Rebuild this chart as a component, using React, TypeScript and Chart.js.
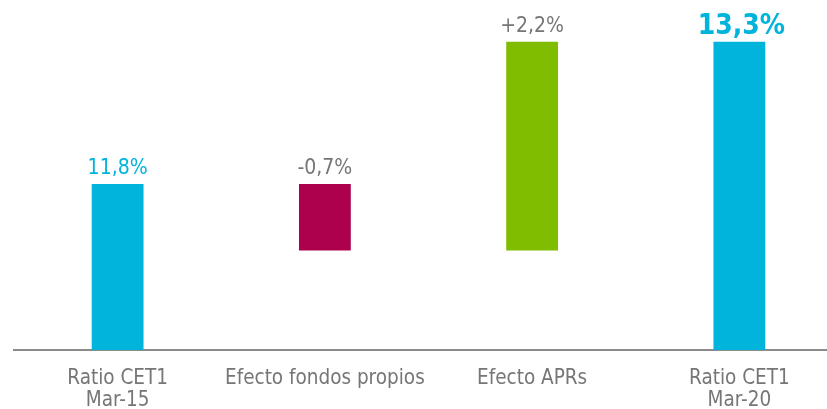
import React, { useEffect, useRef } from "react";
import { Chart, registerables } from "chart.js";

Chart.register(...registerables);

const categories: (string | string[])[] = [
  ["Ratio CET1", "Mar-15"],
  "Efecto fondos propios",
  "Efecto APRs",
  ["Ratio CET1", "Mar-20"],
];
const startValue = 11.8;
const fondosPropiosEffect = -0.7;
const aprsEffect = 2.2;
const endValue = 13.3;
const barValues: (number | [number, number])[] = [
  startValue,
  [startValue + fondosPropiosEffect, startValue],
  [startValue + fondosPropiosEffect, startValue + fondosPropiosEffect + aprsEffect],
  endValue,
];
const valueLabels = ["11,8%", "-0,7%", "+2,2%", "13,3%"];

const barColors = ["#00B4DC", "#AD004D", "#80BC00", "#00B4DC"];
const labelColors = ["#00B4DC", "#767676", "#767676", "#00B4DC"];
const labelBold = [false, false, false, true];

const FONT = "'DejaVu Sans Condensed', 'DejaVu Sans', sans-serif";

const valueLabelPlugin = {
  id: "valueLabels",
  afterDatasetsDraw(chart: any) {
    const ctx = chart.ctx;
    const meta = chart.getDatasetMeta(0);
    ctx.save();
    ctx.textAlign = "center";
    ctx.textBaseline = "alphabetic";
    meta.data.forEach((bar: any, i: number) => {
      const top = Math.min(bar.y, bar.base);
      ctx.font = labelBold[i] ? `bold 28px ${FONT}` : `21px ${FONT}`;
      ctx.fillStyle = labelColors[i];
      ctx.fillText(valueLabels[i], bar.x + (labelBold[i] ? 2 : 0), top - (labelBold[i] ? 8 : 10));
    });
    ctx.restore();
  },
};

export default function App() {
  const ref = useRef<HTMLCanvasElement | null>(null);
  useEffect(() => {
    document.body.style.margin = "0";
    document.documentElement.style.overflow = "hidden";
    const chart = new Chart(ref.current as HTMLCanvasElement, {
      type: "bar",
      data: {
        labels: categories,
        datasets: [
          {
            data: barValues as any,
            backgroundColor: barColors,
            borderWidth: 0,
            barPercentage: 0.25,
            categoryPercentage: 1,
          },
        ],
      },
      plugins: [valueLabelPlugin],
      options: {
        animation: false,
        responsive: false,
        maintainAspectRatio: false,
        layout: { padding: { left: 14, right: 0, top: 0, bottom: 0 } },
        plugins: { legend: { display: false }, tooltip: { enabled: false } },
        scales: {
          x: {
            z: 1,
            grid: { display: false, drawTicks: false },
            border: { display: true, color: "#8C8C8C", width: 2 },
            ticks: {
              color: "#767676",
              font: { family: FONT, size: 20.5, lineHeight: 1.05 },
              padding: 18,
              maxRotation: 0,
              autoSkip: false,
            },
            afterFit(scale: any) {
              scale.height = 59;
            },
          },
          y: {
            display: false,
            min: 10.05,
            max: 13.74,
          },
        },
      },
    });
    return () => chart.destroy();
  }, []);
  return (
    <div style={{ width: 827, height: 409, overflow: "hidden", position: "relative" }}>
      <canvas ref={ref} width={843} height={409} style={{ display: "block" }} />
    </div>
  );
}
